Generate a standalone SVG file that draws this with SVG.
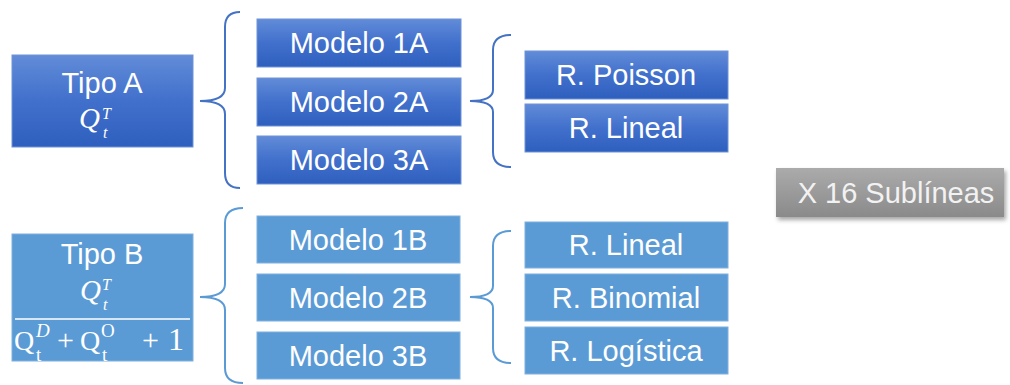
<svg xmlns="http://www.w3.org/2000/svg" width="1010" height="385" viewBox="0 0 1010 385">
  <defs>
    <linearGradient id="gDark" x1="0" y1="0" x2="0" y2="1">
      <stop offset="0" stop-color="#628cd8"/>
      <stop offset="0.5" stop-color="#4170cc"/>
      <stop offset="1" stop-color="#2f5fbe"/>
    </linearGradient>
    <linearGradient id="gGray" x1="0" y1="0" x2="0" y2="1">
      <stop offset="0" stop-color="#ababab"/>
      <stop offset="1" stop-color="#8a8a8a"/>
    </linearGradient>
    <filter id="shadow" x="-10%" y="-20%" width="120%" height="160%">
      <feDropShadow dx="2" dy="3" stdDeviation="2" flood-color="#000" flood-opacity="0.35"/>
    </filter>
  </defs>
  <style>
    .dark { fill: url(#gDark); stroke: #6f93d6; stroke-width: 1; }
    .light { fill: #5b9bd5; stroke: #7fb0de; stroke-width: 1; }
    .lbl { font-family: "Liberation Sans", Arial, sans-serif; font-size: 29px; fill: #ffffff; text-anchor: middle; }
    .math { font-family: "Liberation Serif", "Times New Roman", serif; fill: #ffffff; }
    .it { font-style: italic; }
    .braceA { fill: none; stroke: #4472c4; stroke-width: 2; }
    .braceB { fill: none; stroke: #5b9bd5; stroke-width: 2; }
  </style>

  <!-- connectors: curly braces -->
  <g id="connectors">
    <path class="braceA" d="M240,12 Q225,12 225,27 L225,88 Q225,101 200,101 Q225,101 225,114 L225,173 Q225,188 240,188"/>
    <path class="braceB" d="M243,208 Q225,208 225,223 L225,284 Q225,297 200,297 Q225,297 225,310 L225,368 Q225,383 243,383"/>
    <path class="braceA" d="M511,35 Q493,35 493,50 L493,90 Q493,101 470,101 Q493,101 493,112 L493,152 Q493,167 511,167"/>
    <path class="braceB" d="M511,231 Q493,231 493,246 L493,286 Q493,297 470,297 Q493,297 493,308 L493,348 Q493,363 511,363"/>
  </g>

  <!-- Tipo A -->
  <g id="tipoA">
    <rect class="dark" x="12" y="55" width="181" height="92"/>
    <text class="lbl" x="102" y="93">Tipo A</text>
    <text class="math it" font-size="29"><tspan x="79" y="128">Q</tspan></text>
    <text class="math it" font-size="16"><tspan x="102" y="119">T</tspan></text>
    <text class="math it" font-size="16"><tspan x="103" y="138">t</tspan></text>
  </g>

  <!-- Tipo B -->
  <g id="tipoB">
    <rect class="light" x="12" y="234" width="181" height="127"/>
    <text class="lbl" x="102" y="264">Tipo B</text>
    <text class="math it" font-size="29"><tspan x="80" y="300">Q</tspan></text>
    <text class="math it" font-size="16"><tspan x="102" y="290">T</tspan></text>
    <text class="math it" font-size="16"><tspan x="103" y="310">t</tspan></text>
    <line x1="15" y1="319" x2="190" y2="319" stroke="#ffffff" stroke-width="1.5"/>
    <text class="math" font-size="28"><tspan x="14" y="350">Q</tspan></text>
    <text class="math" font-size="30"><tspan x="57" y="350">+</tspan></text>
    <text class="math" font-size="28"><tspan x="80" y="350">Q</tspan></text>
    <text class="math" font-size="30"><tspan x="142" y="350">+</tspan></text>
    <text class="math" font-size="32"><tspan x="168" y="350">1</tspan></text>
    <text class="math it" font-size="19"><tspan x="36" y="337">D</tspan></text>
    <text class="math" font-size="19"><tspan x="36" y="361">t</tspan><tspan x="101" y="337">O</tspan><tspan x="102" y="361">t</tspan></text>
  </g>

  <!-- Modelos A -->
  <g id="modelo1A">
    <rect class="dark" x="257" y="19" width="204" height="48"/>
    <text class="lbl" x="359" y="53">Modelo 1A</text>
  </g>
  <g id="modelo2A">
    <rect class="dark" x="257" y="78" width="204" height="48"/>
    <text class="lbl" x="359" y="112">Modelo 2A</text>
  </g>
  <g id="modelo3A">
    <rect class="dark" x="257" y="136" width="204" height="48"/>
    <text class="lbl" x="359" y="170">Modelo 3A</text>
  </g>

  <!-- Modelos B -->
  <g id="modelo1B">
    <rect class="light" x="257" y="216" width="203" height="47"/>
    <text class="lbl" x="358" y="250">Modelo 1B</text>
  </g>
  <g id="modelo2B">
    <rect class="light" x="257" y="274" width="203" height="47"/>
    <text class="lbl" x="358" y="308">Modelo 2B</text>
  </g>
  <g id="modelo3B">
    <rect class="light" x="257" y="332" width="203" height="47"/>
    <text class="lbl" x="358" y="366">Modelo 3B</text>
  </g>

  <!-- Regresiones A -->
  <g id="poissonA">
    <rect class="dark" x="525" y="51" width="203" height="48"/>
    <text class="lbl" x="626" y="85">R. Poisson</text>
  </g>
  <g id="linealA">
    <rect class="dark" x="525" y="104" width="203" height="48"/>
    <text class="lbl" x="626" y="138">R. Lineal</text>
  </g>

  <!-- Regresiones B -->
  <g id="linealB">
    <rect class="light" x="525" y="222" width="203" height="46"/>
    <text class="lbl" x="626" y="255">R. Lineal</text>
  </g>
  <g id="binomialB">
    <rect class="light" x="525" y="274" width="203" height="47"/>
    <text class="lbl" x="626" y="308">R. Binomial</text>
  </g>
  <g id="logisticaB">
    <rect class="light" x="525" y="327" width="203" height="47"/>
    <text class="lbl" x="626" y="361">R. Logística</text>
  </g>

  <!-- Sublíneas -->
  <g id="sublineas">
    <rect x="776" y="168" width="228" height="49" fill="url(#gGray)" filter="url(#shadow)"/>
    <text class="lbl" x="896" y="203" style="fill:#f2f2f2">X 16 Sublíneas</text>
  </g>
</svg>
